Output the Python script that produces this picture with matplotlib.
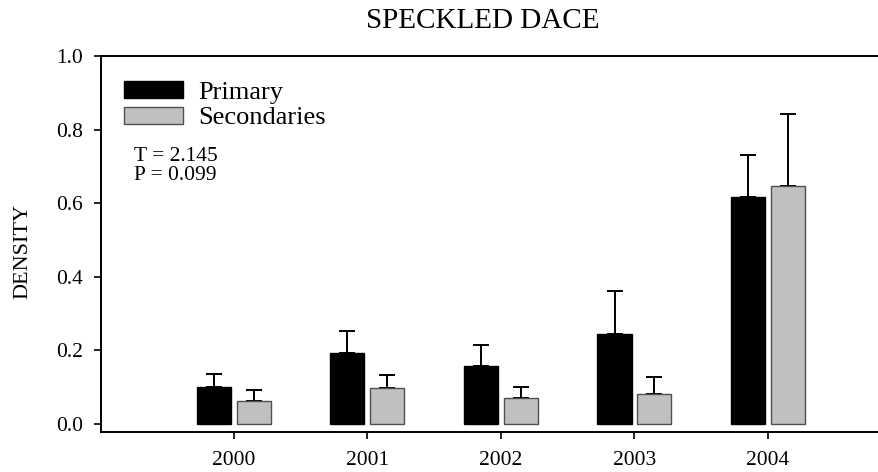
import numpy as np
import matplotlib.pyplot as plt
from matplotlib.patches import Patch

# Mean density per year with upper standard error
years = ['2000', '2001', '2002', '2003', '2004']
primary_mean = [0.100, 0.193, 0.159, 0.245, 0.616]
primary_err = [0.036, 0.061, 0.057, 0.117, 0.116]
secondary_mean = [0.063, 0.099, 0.071, 0.081, 0.647]
secondary_err = [0.029, 0.035, 0.029, 0.048, 0.195]
series_names = ['Primary', 'Secondaries']
stats_text = ['T = 2.145', 'P = 0.099']

plt.rcParams['font.family'] = ['Liberation Serif', 'DejaVu Serif']

fig = plt.figure(figsize=(8.79, 4.72), dpi=100)
ax = fig.add_axes([0.1149, 0.0847, 0.9, 0.7967])

x = np.arange(len(years))
width = 0.255
offset = 0.149

ax.bar(x - offset, primary_mean, width, color='black', edgecolor='black',
       linewidth=1.0, zorder=2)
ax.bar(x + offset, secondary_mean, width, color='#c0c0c0', edgecolor='#505050',
       linewidth=1.0, zorder=2)

# upper error bars only
ax.errorbar(x - offset, primary_mean, yerr=[np.zeros(len(years)), primary_err],
            fmt='none', ecolor='black', elinewidth=1.4, capsize=6, capthick=1.4, zorder=1)
ax.errorbar(x + offset, secondary_mean, yerr=[np.zeros(len(years)), secondary_err],
            fmt='none', ecolor='black', elinewidth=1.4, capsize=6, capthick=1.4, zorder=1)

ax.set_xlim(-0.995, 4.93)
ax.set_ylim(-0.0217, 1.0)
ax.set_xticks(x)
ax.set_xticklabels(years, fontsize=15.5)
ax.set_yticks(np.arange(0, 1.01, 0.2))
ax.set_yticklabels([f'{v:.1f}' for v in np.arange(0, 1.01, 0.2)], fontsize=15.5)
ax.tick_params(direction='out', length=5, width=1.2, pad=8)
ax.tick_params(axis='x', pad=9)

for side in ['left', 'top', 'bottom']:
    ax.spines[side].set_linewidth(1.4)
ax.spines['right'].set_visible(False)

ax.set_ylabel('DENSITY', fontsize=16)
ax.yaxis.set_label_coords(-0.087, 0.48)
fig.text(0.549, 0.955, 'SPECKLED DACE', fontsize=21, ha='center', va='center')

handles = [Patch(facecolor='black', edgecolor='black'),
           Patch(facecolor='#c0c0c0', edgecolor='#505050')]
ax.legend(handles, series_names, loc='upper left', bbox_to_anchor=(0.029, 0.934),
          frameon=False, fontsize=19, handlelength=2.23, handleheight=0.625,
          handletextpad=0.57, labelspacing=0.11, borderpad=0.0, borderaxespad=0.0)

ax.text(0.042, 0.757, '\n'.join(stats_text), transform=ax.transAxes,
        fontsize=15.5, va='top', ha='left', linespacing=1.0)

fig.savefig('out.png', dpi=100)
